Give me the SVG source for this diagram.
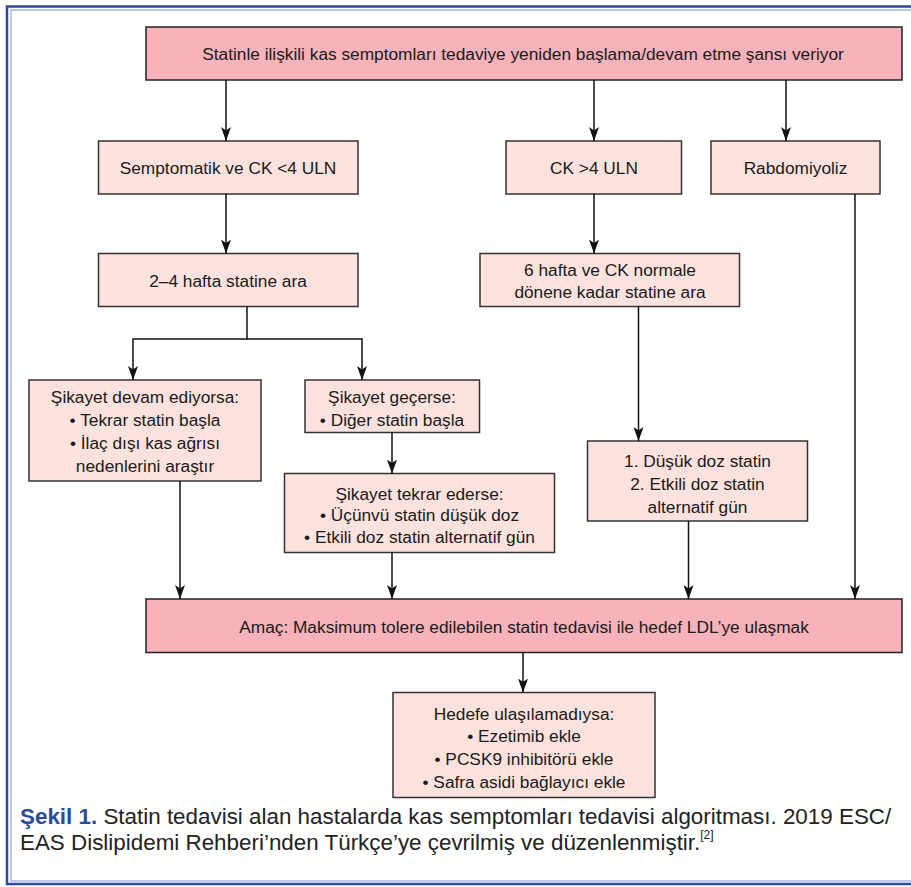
<svg xmlns="http://www.w3.org/2000/svg" width="911" height="887" viewBox="0 0 911 887">
<style>
  .main{fill:#f7b2ba;stroke:#222;stroke-width:1.5}
  .sub{fill:#fde2dd;stroke:#333;stroke-width:1.5}
  text{font-family:"Liberation Sans",Arial,Helvetica,sans-serif;font-size:17.3px;fill:#1a1a1a;text-anchor:middle;dominant-baseline:central}
  .small{font-size:17.3px}
  .cap{font-size:22.4px;text-anchor:start;fill:#222}
  .capb{fill:#2b4a9c;font-weight:bold}
  .conn path{fill:none;stroke:#111;stroke-width:1.5}
</style>
<defs>
  <marker id="ah" viewBox="0 0 14 10" refX="14" refY="5" markerWidth="14" markerHeight="10" markerUnits="userSpaceOnUse" orient="auto">
    <path d="M0,0 L14,5 L0,10 L3.5,5 z" fill="#111"/>
  </marker>
</defs>
<rect width="911" height="887" fill="#fff"/>
<g id="frame" fill="none">
  <rect x="7" y="6.5" width="930" height="877.5" stroke="#2b4a9c" stroke-width="2.5"/>
  <rect x="11" y="10" width="930" height="871" stroke="#7d92cc" stroke-width="1"/>
</g>
<g id="n1"><rect class="main" x="146" y="27" width="756" height="53"/><text x="523" y="54">Statinle ilişkili kas semptomları tedaviye yeniden başlama/devam etme şansı veriyor</text></g>
<g id="n2"><rect class="sub" x="98.5" y="141" width="259.5" height="53"/><text x="228" y="168">Semptomatik ve CK &lt;4 ULN</text></g>
<g id="n3"><rect class="sub" x="506" y="141" width="175.5" height="53"/><text x="594" y="168">CK &gt;4 ULN</text></g>
<g id="n4"><rect class="sub" x="711" y="141" width="169" height="53"/><text x="795.5" y="168">Rabdomiyoliz</text></g>
<g id="n5"><rect class="sub" x="98.5" y="253.5" width="259.5" height="53"/><text x="228" y="281">2–4 hafta statine ara</text></g>
<g id="n6"><rect class="sub" x="480" y="253.5" width="259.5" height="53"/><text x="610" y="269.5">6 hafta ve CK normale</text><text x="610" y="292">dönene kadar statine ara</text></g>
<g id="n7"><rect class="sub" x="29" y="380" width="232" height="101"/><text x="145" y="397">Şikayet devam ediyorsa:</text><text x="145" y="420">• Tekrar statin başla</text><text x="145" y="443">• İlaç dışı kas ağrısı</text><text x="145" y="466">nedenlerini araştır</text></g>
<g id="n8"><rect class="sub" x="305" y="380" width="174.5" height="52.5"/><text x="392" y="397">Şikayet geçerse:</text><text x="392" y="420">• Diğer statin başla</text></g>
<g id="n9"><rect class="sub" x="284.5" y="473.5" width="270" height="79"/><text x="419.5" y="493.5">Şikayet tekrar ederse:</text><text x="419.5" y="515">• Üçünvü statin düşük doz</text><text x="419.5" y="537">• Etkili doz statin alternatif gün</text></g>
<g id="n10"><rect class="sub" x="587.5" y="441" width="220" height="80"/><text x="697.5" y="461">1. Düşük doz statin</text><text x="697.5" y="484">2. Etkili doz statin</text><text x="697.5" y="507">alternatif gün</text></g>
<g id="n11"><rect class="main" x="146" y="599" width="756" height="53.5"/><text x="524" y="627">Amaç: Maksimum tolere edilebilen statin tedavisi ile hedef LDL’ye ulaşmak</text></g>
<g id="n12"><rect class="sub" x="393" y="692.5" width="262" height="105"/><text class="small" x="524" y="714">Hedefe ulaşılamadıysa:</text><text class="small" x="524" y="736">• Ezetimib ekle</text><text class="small" x="524" y="759">• PCSK9 inhibitörü ekle</text><text class="small" x="524" y="782">• Safra asidi bağlayıcı ekle</text></g>
<g class="conn" id="connectors">
  <path d="M226,80 V141" marker-end="url(#ah)"/>
  <path d="M594,80 V141" marker-end="url(#ah)"/>
  <path d="M786,80 V141" marker-end="url(#ah)"/>
  <path d="M226,194 V253.5" marker-end="url(#ah)"/>
  <path d="M594,194 V253.5" marker-end="url(#ah)"/>
  <path d="M247,306.5 V339 H133 V380" marker-end="url(#ah)"/>
  <path d="M247,339 H362 V380" marker-end="url(#ah)"/>
  <path d="M638.5,306.5 V441" marker-end="url(#ah)"/>
  <path d="M392,432.5 V473.5" marker-end="url(#ah)"/>
  <path d="M180,481 V599" marker-end="url(#ah)"/>
  <path d="M392,552.5 V599" marker-end="url(#ah)"/>
  <path d="M688.5,521 V599" marker-end="url(#ah)"/>
  <path d="M855,194 V599" marker-end="url(#ah)"/>
  <path d="M523,652.5 V692.5" marker-end="url(#ah)"/>
</g>
<g id="caption">
  <text class="cap" x="20" y="816"><tspan class="capb">Şekil 1.</tspan> Statin tedavisi alan hastalarda kas semptomları tedavisi algoritması. 2019 ESC/</text>
  <text class="cap" x="20" y="842">EAS Dislipidemi Rehberi’nden Türkçe’ye çevrilmiş ve düzenlenmiştir.<tspan font-size="12" dy="-7">[2]</tspan></text>
</g>
</svg>
